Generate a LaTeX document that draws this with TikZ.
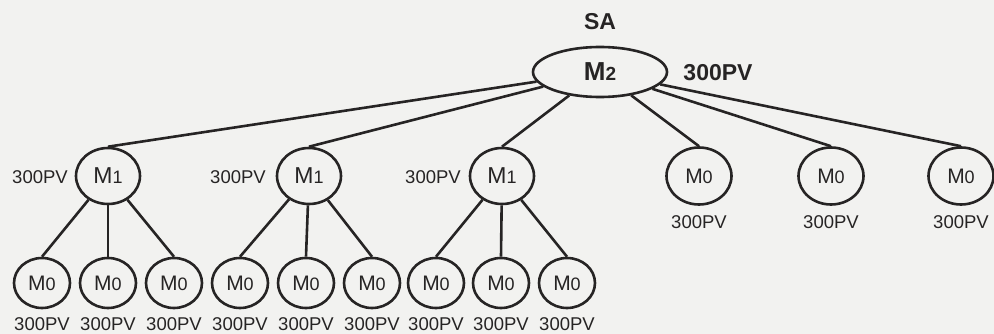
\documentclass[tikz,border=0pt]{standalone}
\usepackage{fontspec}
\setmainfont{Liberation Sans}
\usetikzlibrary{shapes.geometric}
\definecolor{bg}{RGB}{242,242,240}
\definecolor{ink}{RGB}{38,36,36}
\newcommand{\mlab}[2]{M{\fontsize{#2}{#2}\selectfont #1}}
\begin{document}
\begin{tikzpicture}[x=1pt,y=-1pt,
  every node/.style={text=ink},
  lab/.style={font=\fontsize{18.5}{20}\selectfont, inner sep=0pt},
  blab/.style={font=\fontsize{23}{25}\selectfont\bfseries, inner sep=0pt},
  mzero/.style={draw=ink, line width=2.6pt, ellipse, inner sep=0pt, minimum width=56pt, minimum height=50pt, font=\fontsize{21}{22}\selectfont},
  mzerob/.style={mzero, minimum width=65pt, minimum height=57pt},
  mone/.style={draw=ink, line width=2.6pt, ellipse, inner sep=0pt, minimum width=64pt, minimum height=56pt, font=\fontsize{23}{24}\selectfont},
  mtwo/.style={draw=ink, line width=2.6pt, ellipse, inner sep=0pt, minimum width=134pt, minimum height=50pt, font=\fontsize{26}{27}\selectfont\bfseries},
  conn/.style={draw=ink, line width=2.6pt}
]
\fill[bg] (0,0) rectangle (994,334);
\useasboundingbox (0,0) rectangle (994,334);

% top
\node[blab] (sa) at (600,22) {SA};
\node[mtwo] (m2) at (600,72) {\mlab{2}{19}};
\node[blab] (m2pv) at (718,73) {300PV};

% M1 nodes
\node[mone] (a) at (108,176) {\mlab{1}{18}};
\node[mone] (b) at (309,176) {\mlab{1}{18}};
\node[mone] (c) at (502,176) {\mlab{1}{18}};
\node[lab] (apv) at (40,177) {300PV};
\node[lab] (bpv) at (238,177) {300PV};
\node[lab] (cpv) at (433,177) {300PV};

% right M0 nodes
\node[mzerob] (r1) at (699,176) {\mlab{0}{18}};
\node[mzerob] (r2) at (831,176) {\mlab{0}{18}};
\node[mzerob] (r3) at (961,176) {\mlab{0}{18}};
\node[lab] (r1pv) at (699,222) {300PV};
\node[lab] (r2pv) at (831,222) {300PV};
\node[lab] (r3pv) at (961,222) {300PV};

% bottom M0 nodes
\foreach \i/\x in {1/42,2/108,3/174,4/240,5/306,6/372,7/436,8/501,9/567}{
  \node[mzero] (l\i) at (\x,283) {\mlab{0}{18}};
  \node[lab] (l\i pv) at (\x,324) {300PV};
}

% connectors
\foreach \t in {a,b,c,r1,r2,r3}{\draw[conn] (m2) -- (\t.north);}
\foreach \t in {l1,l2,l3}{\draw[conn] (a) -- (\t.north);}
\foreach \t in {l4,l5,l6}{\draw[conn] (b) -- (\t.north);}
\foreach \t in {l7,l8,l9}{\draw[conn] (c) -- (\t.north);}
\end{tikzpicture}
\end{document}
